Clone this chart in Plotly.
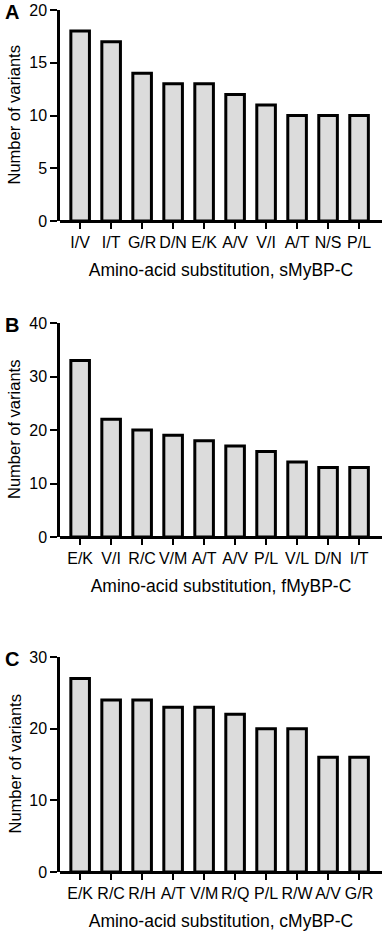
import plotly.graph_objects as go

cats_a = ["I/V", "I/T", "G/R", "D/N", "E/K", "A/V", "V/I", "A/T", "N/S", "P/L"]
vals_a = [18, 17, 14, 13, 13, 12, 11, 10, 10, 10]
cats_b = ["E/K", "V/I", "R/C", "V/M", "A/T", "A/V", "P/L", "V/L", "D/N", "I/T"]
vals_b = [33, 22, 20, 19, 18, 17, 16, 14, 13, 13]
cats_c = ["E/K", "R/C", "R/H", "A/T", "V/M", "R/Q", "P/L", "R/W", "A/V", "G/R"]
vals_c = [27, 24, 24, 23, 23, 22, 20, 20, 16, 16]

titles = ["Amino-acid substitution, sMyBP-C",
          "Amino-acid substitution, fMyBP-C",
          "Amino-acid substitution, cMyBP-C"]
letters = ["A", "B", "C"]
yticks = [[0, 5, 10, 15, 20], [0, 10, 20, 30, 40], [0, 10, 20, 30]]
ymax = [20, 40, 30]

W = 387
H = 933
# pixel positions (top, bottom) of each plot area
pix = [(10, 221), (323, 537), (657, 872)]
x0, x1 = 60, 382

FONT = "Liberation Sans, Arial, sans-serif"
fig = go.Figure()
annotations = []
data = [(cats_a, vals_a), (cats_b, vals_b), (cats_c, vals_c)]
for i, (cats, vals) in enumerate(data):
    n = i + 1
    xa = "x" if n == 1 else f"x{n}"
    ya = "y" if n == 1 else f"y{n}"
    fig.add_trace(go.Bar(
        x=list(range(len(cats))), y=vals, xaxis=xa, yaxis=ya,
        width=0.6,
        marker=dict(color="#dcdcdc", line=dict(color="black", width=3)),
        showlegend=False, hoverinfo="skip",
    ))
    top, bot = pix[i]
    dom_y = [1 - bot / H, 1 - top / H]
    axkey = "xaxis" if n == 1 else f"xaxis{n}"
    aykey = "yaxis" if n == 1 else f"yaxis{n}"
    fig.update_layout(**{
        axkey: dict(
            domain=[x0 / W, x1 / W], anchor=ya, range=[-0.65, 9.74],
            tickmode="array", tickvals=list(range(len(cats))), ticktext=cats,
            tickangle=0, automargin=False,
            showline=False,
            ticks="outside", ticklen=7, tickwidth=2, tickcolor="black",
            showgrid=False, zeroline=False,
            tickfont=dict(family=FONT, size=16, color="black"),
            title=dict(text=titles[i], font=dict(family=FONT, size=17.5, color="black"), standoff=13),
        ),
        aykey: dict(
            domain=dom_y, anchor=xa, range=[0, ymax[i]],
            tickmode="array", tickvals=yticks[i], automargin=False,
            showline=True, linecolor="black", linewidth=2.5,
            ticks="outside", ticklen=7, tickwidth=2, tickcolor="black",
            showgrid=False, zeroline=True, zerolinecolor="black", zerolinewidth=3,
            tickfont=dict(family=FONT, size=16, color="black"),
        ),
    })
    annotations.append(dict(
        text="Number of variants", textangle=-90, x=14 / W, y=1 - (top + bot) / 2 / H,
        xref="paper", yref="paper", showarrow=False, xanchor="center", yanchor="middle",
        font=dict(family=FONT, size=16.5, color="black"),
    ))
    annotations.append(dict(
        text=f"<b>{letters[i]}</b>", x=3 / W, y=1 - (top + 2) / H,
        xref="paper", yref="paper", showarrow=False, xanchor="left", yanchor="middle",
        font=dict(family=FONT, size=20, color="black"),
    ))

fig.update_layout(
    width=W, height=H, margin=dict(l=0, r=0, t=0, b=0, autoexpand=False),
    plot_bgcolor="white", paper_bgcolor="white",
    annotations=annotations,
)
fig.write_html(
    "out.html",
    config={"displayModeBar": False},
    post_script="document.body.style.margin='0';document.body.style.overflow='hidden';",
)
